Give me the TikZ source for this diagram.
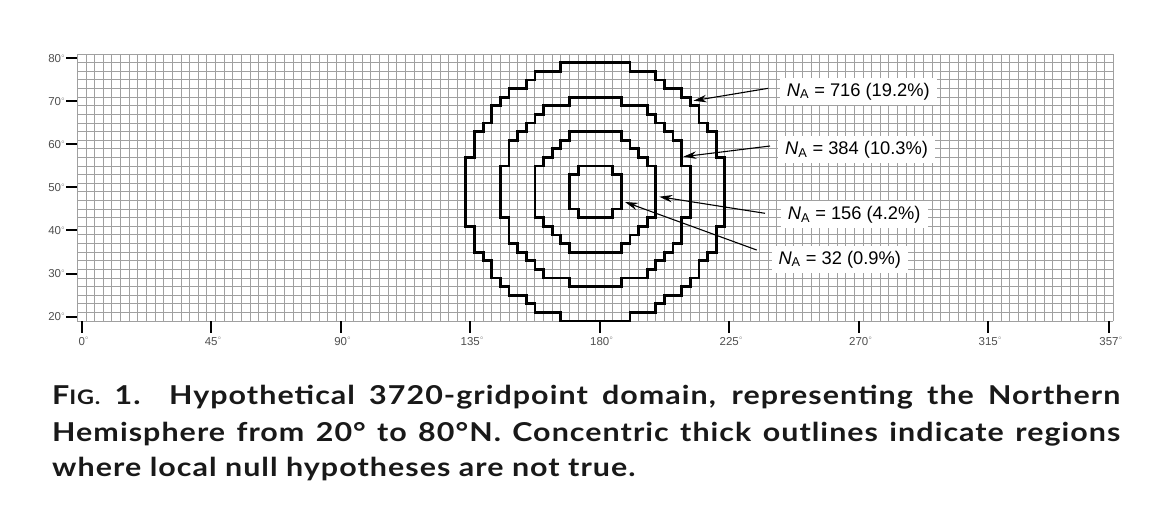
\documentclass[tikz,border=0pt]{standalone}
\usepackage{fontspec}
\setmainfont{Lato}
\newfontfamily\capfont{Lato}[FakeStretch=1.17,LetterSpace=4]
\newfontfamily\lblfont{Liberation Sans}
\usetikzlibrary{arrows.meta}
\definecolor{gridgray}{RGB}{160,160,160}
\definecolor{axgray}{RGB}{80,80,80}
\definecolor{captext}{RGB}{25,25,25}
\newcommand{\dgs}{\raisebox{0.45em}{\fontsize{5}{5}\selectfont$\circ$}}
\begin{document}
\begin{tikzpicture}[x=1pt,y=-1pt,
  gridline/.style={draw=gridgray,line width=0.9pt},
  outline/.style={draw=black,line width=2.8pt,line join=miter},
  axtick/.style={draw=black,line width=1.4pt},
  ytickbar/.style={fill=black},
  ylab/.style={anchor=base east,inner sep=0pt,text=axgray,font=\lblfont\fontsize{11.5}{12}\selectfont},
  xlab/.style={anchor=base,inner sep=0pt,text=axgray,font=\lblfont\fontsize{11.5}{12}\selectfont},
  nalabel/.style={anchor=base west,fill=white,inner xsep=7pt,inner ysep=5pt,font=\lblfont\fontsize{18.3}{19}\selectfont},
  pointer/.style={draw=black,line width=1.1pt,-{Stealth[length=13pt,width=7.5pt]}},
  capline/.style={anchor=base west,inner sep=0pt,text=captext,font=\capfont\fontsize{26}{30}\selectfont\bfseries}
]
\fill[white] (0,0) rectangle (1155,523);
\useasboundingbox (0,0) rectangle (1155,523);

\begin{scope}[shift={(77.38pt,-321pt)},x=8.633pt,y=8.61pt]
  % grid
  \foreach \k in {0,...,120} \draw[gridline] (\k,0) -- (\k,31);
  \foreach \m in {0,...,31} \draw[gridline] (0,\m) -- (120,\m);
  % N_A = 716
  \draw[outline] (56,30) -- (64,30) |- (67,29) |- (68,28) |- (70,27) |- (71,26) |- (72,25)
    |- (73,23) |- (74,22) |- (75,19) -- (75,11) -| (74,8) -| (73,7) -| (72,5) -| (71,4)
    -| (70,3) -| (68,2) -| (67,1) -| (64,0) -- (56,0) |- (53,1) |- (52,2) |- (50,3)
    |- (49,4) |- (48,5) |- (47,7) |- (46,8) |- (45,11) -- (45,19) -| (46,22) -| (47,23)
    -| (48,25) -| (49,26) -| (50,27) -| (52,28) -| (53,29) -| (56,30) -- cycle;
  % N_A = 384
  \draw[outline] (57,26) -- (63,26) |- (66,25) |- (67,24) |- (68,23) |- (69,22) |- (70,21)
    |- (71,18) -- (71,12) -| (70,9) -| (69,8) -| (68,7) -| (67,6) -| (66,5) -| (63,4)
    -- (57,4) |- (54,5) |- (53,6) |- (52,7) |- (51,8) |- (50,9) |- (49,12) -- (49,18)
    -| (50,21) -| (51,22) -| (52,23) -| (53,24) -| (54,25) -| (57,26) -- cycle;
  % N_A = 156
  \draw[outline] (57,22) -- (63,22) |- (64,21) |- (65,20) |- (66,19) |- (67,18) -- (67,12)
    -| (66,11) -| (65,10) -| (64,9) -| (63,8) -- (57,8) |- (56,9) |- (55,10) |- (54,11)
    |- (53,12) -- (53,18) -| (54,19) -| (55,20) -| (56,21) -| (57,22) -- cycle;
  % N_A = 32
  \draw[outline] (58,18) -- (62,18) -- (62,17) -- (63,17) -- (63,13) -- (62,13) -- (62,12)
    -- (58,12) -- (58,13) -- (57,13) -- (57,17) -- (58,17) -- cycle;
\end{scope}

% y axis labels
\node[ylab] (ylab80) at (65,62.4)  {80\dgs};
\node[ylab] (ylab70) at (65,105.45) {70\dgs};
\node[ylab] (ylab60) at (65,148.5) {60\dgs};
\node[ylab] (ylab50) at (65,191.55) {50\dgs};
\node[ylab] (ylab40) at (65,234.6) {40\dgs};
\node[ylab] (ylab30) at (65,277.65) {30\dgs};
\node[ylab] (ylab20) at (65,320.8) {20\dgs};
% x axis labels
\node[xlab] (xlab0)   at (81.7,345)   {0\rlap{\dgs}};
\node[xlab] (xlab45)  at (211.2,345)  {45\rlap{\dgs}};
\node[xlab] (xlab90)  at (340.7,345)  {90\rlap{\dgs}};
\node[xlab] (xlab135) at (470.2,345)  {135\rlap{\dgs}};
\node[xlab] (xlab180) at (599.7,345)  {180\rlap{\dgs}};
\node[xlab] (xlab225) at (729.2,345)  {225\rlap{\dgs}};
\node[xlab] (xlab270) at (858.7,345)  {270\rlap{\dgs}};
\node[xlab] (xlab315) at (988.2,345)  {315\rlap{\dgs}};
\node[xlab] (xlab357) at (1109.0,345) {357\rlap{\dgs}};

% labels
\node[nalabel] (l716) at (779.7,96)  {\textit{N}\textsubscript{A} = 716 (19.2\%)};
\node[nalabel] (l384) at (778,154.3) {\textit{N}\textsubscript{A} = 384 (10.3\%)};
\node[nalabel] (l156) at (780.7,219.3) {\textit{N}\textsubscript{A} = 156 (4.2\%)};
\node[nalabel] (l32)  at (771.3,264) {\textit{N}\textsubscript{A} = 32 (0.9\%)};

% arrow ends
\coordinate (s716) at (768.3,88.3);  \coordinate (t716) at (693.5,100.7);
\coordinate (s384) at (770,146);     \coordinate (t384) at (683.3,156.7);
\coordinate (s156) at (765,213.3);   \coordinate (t156) at (659.3,196.7);
\coordinate (s32)  at (756.7,250);   \coordinate (t32)  at (625,202);
\draw[pointer] (s716) -- (t716);
\draw[pointer] (s384) -- (t384);
\draw[pointer] (s156) -- (t156);
\draw[pointer] (s32) -- (t32);

% caption
\node[capline] (cap1) at (52,404) {\makebox[1068pt][s]{F{\fontsize{20}{20}\selectfont IG.} 1. Hypothetical 3720-gridpoint domain, representing the Northern}};
\node[capline] (cap2) at (52,441.7) {\makebox[1068pt][s]{Hemisphere from 20° to 80°N. Concentric thick outlines indicate regions}};
\node[capline] (cap3) at (52,476.7) {where local null hypotheses are not true.};

% axis ticks
\foreach \yy in {58,101,144,187,230,274,317}
  \fill[ytickbar] (66,\yy-0.8) rectangle (77.4,\yy+0.8);
\draw[axtick] (82,321) -- (82,333);
\draw[axtick] (211,321) -- (211,333);
\draw[axtick] (341,321) -- (341,333);
\draw[axtick] (470,321) -- (470,333);
\draw[axtick] (600,321) -- (600,333);
\draw[axtick] (729,321) -- (729,333);
\draw[axtick] (859,321) -- (859,333);
\draw[axtick] (988,321) -- (988,333);
\draw[axtick] (1109,321) -- (1109,333);
\end{tikzpicture}
\end{document}
